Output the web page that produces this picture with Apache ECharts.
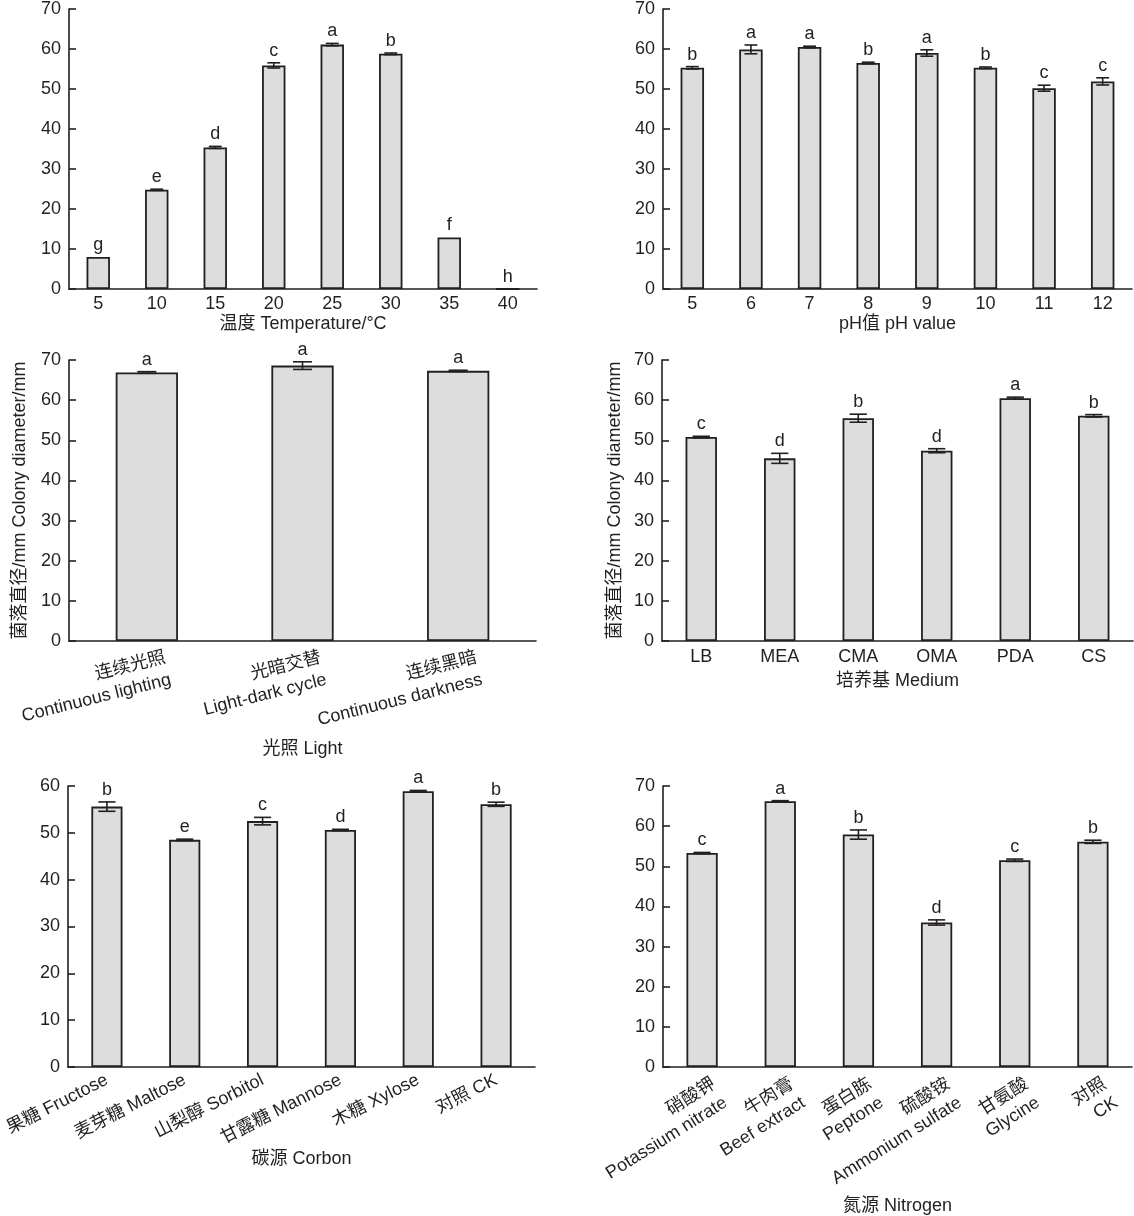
<!DOCTYPE html>
<html lang="zh">
<head>
    <meta charset="utf-8">
    <title>菌落直径</title>
    <script src="https://cdn.jsdelivr.net/npm/echarts@6/dist/echarts.min.js"></script>
    <style>
        body { margin: 0; background: #fff; }
    </style>
</head>
<body>
<div id="main" style="width: 1134px;height:1216px;"></div>
<script type="text/javascript">
    // 温度
    var tempCats = ['5', '10', '15', '20', '25', '30', '35', '40'];
    var tempMean = [8, 24.8, 35.4, 55.9, 61.1, 58.8, 12.9, 0];
    var tempErr = [0, 0.15, 0.25, 0.65, 0.3, 0.2, 0, 0];
    var tempLetters = ['g', 'e', 'd', 'c', 'a', 'b', 'f', 'h'];

    // pH
    var phCats = ['5', '6', '7', '8', '9', '10', '11', '12'];
    var phMean = [55.3, 59.9, 60.5, 56.5, 59.0, 55.3, 50.2, 51.9];
    var phErr = [0.3, 1.1, 0.2, 0.2, 0.8, 0.2, 0.75, 0.9];
    var phLetters = ['b', 'a', 'a', 'b', 'a', 'b', 'c', 'c'];

    // 光照
    var lightCats = ['连续光照\nContinuous lighting', '光暗交替\nLight-dark cycle', '连续黑暗\nContinuous darkness'];
    var lightMean = [66.9, 68.6, 67.3];
    var lightErr = [0.2, 0.95, 0.15];
    var lightLetters = ['a', 'a', 'a'];

    // 培养基
    var mediumCats = ['LB', 'MEA', 'CMA', 'OMA', 'PDA', 'CS'];
    var mediumMean = [50.8, 45.5, 55.5, 47.4, 60.5, 56.1];
    var mediumErr = [0.2, 1.25, 1.0, 0.5, 0.25, 0.3];
    var mediumLetters = ['c', 'd', 'b', 'd', 'a', 'b'];

    // 碳源
    var carbonCats = ['果糖 Fructose', '麦芽糖 Maltose', '山梨醇 Sorbitol', '甘露糖 Mannose', '木糖 Xylose', '对照 CK'];
    var carbonMean = [55.6, 48.5, 52.5, 50.6, 58.9, 56.1];
    var carbonErr = [1.0, 0.15, 0.8, 0.15, 0.15, 0.45];
    var carbonLetters = ['b', 'e', 'c', 'd', 'a', 'b'];

    // 氮源
    var nitroCats = ['硝酸钾\nPotassium nitrate', '牛肉膏\nBeef extract', '蛋白胨\nPeptone', '硫酸铵\nAmmonium sulfate', '甘氨酸\nGlycine', '对照\nCK'];
    var nitroMean = [53.3, 66.2, 57.9, 36.0, 51.5, 56.1];
    var nitroErr = [0.15, 0.15, 1.15, 0.65, 0.3, 0.4];
    var nitroLetters = ['c', 'a', 'b', 'd', 'c', 'b'];

    var ink = '#231f20';
    var fill = '#dcdddc';
    var font = '"Liberation Sans", Arial, "Noto Sans CJK SC", sans-serif';
    var fs = 18;
    var yName = '菌落直径/mm Colony diameter/mm';

    var grids = [
        {left: 69, top: 9, width: 468, height: 280},
        {left: 663, top: 9, width: 469, height: 280},
        {left: 69, top: 360, width: 467, height: 281},
        {left: 662, top: 360, width: 471, height: 281},
        {left: 68, top: 786, width: 467, height: 281},
        {left: 663, top: 786, width: 469, height: 281}
    ];
    grids.forEach(function (g) { g.outerBoundsMode = 'none'; g.containLabel = false; });

    var panels = [
        {cats: tempCats, mean: tempMean, err: tempErr, letters: tempLetters, max: 70,
            xName: '温度 Temperature/°C', nameGap: 26, label: {margin: 6}},
        {cats: phCats, mean: phMean, err: phErr, letters: phLetters, max: 70,
            xName: 'pH值 pH value', nameGap: 26, label: {margin: 6}},
        {cats: lightCats, mean: lightMean, err: lightErr, letters: lightLetters, max: 70,
            xName: '光照 Light', nameGap: 99, yName: yName,
            label: {rotate: 14, align: 'right', verticalAlign: 'top', margin: 9, padding: [0, -16, 0, 0], lineHeight: 23}},
        {cats: mediumCats, mean: mediumMean, err: mediumErr, letters: mediumLetters, max: 70,
            xName: '培养基 Medium', nameGap: 31, yName: yName, label: {margin: 7}},
        {cats: carbonCats, mean: carbonMean, err: carbonErr, letters: carbonLetters, max: 60,
            xName: '碳源 Corbon', nameGap: 81, label: {rotate: 27, margin: 12}},
        {cats: nitroCats, mean: nitroMean, err: nitroErr, letters: nitroLetters, max: 70,
            xName: '氮源 Nitrogen', nameGap: 130,
            label: {rotate: 32, align: 'right', verticalAlign: 'top', margin: 10, padding: [0, -7, 0, 0], lineHeight: 22}}
    ];

    var xAxes = [], yAxes = [], series = [];

    panels.forEach(function (p, k) {
        var lab = {interval: 0, color: ink, fontFamily: font, fontSize: fs};
        for (var key in p.label) lab[key] = p.label[key];

        xAxes.push({
            type: 'category', gridIndex: k, data: p.cats,
            name: p.xName, nameLocation: 'middle', nameGap: p.nameGap,
            nameTextStyle: {color: ink, fontFamily: font, fontSize: fs},
            axisLine: {lineStyle: {color: ink, width: 1.6}},
            axisTick: {show: false},
            axisLabel: lab
        });
        yAxes.push({
            type: 'value', gridIndex: k, min: 0, max: p.max, interval: 10,
            name: p.yName || '', nameLocation: 'middle', nameGap: k === 2 ? 40 : 38, nameRotate: 90,
            nameTextStyle: {color: ink, fontFamily: font, fontSize: fs},
            axisLine: {show: true, lineStyle: {color: ink, width: 1.6}},
            axisTick: {show: true, inside: true, length: 7, lineStyle: {color: ink, width: 1.6}},
            axisLabel: {color: ink, fontFamily: font, fontSize: fs, margin: 8},
            splitLine: {show: false}
        });

        series.push({
            type: 'bar', xAxisIndex: k, yAxisIndex: k,
            data: p.mean, barWidth: '40%',
            itemStyle: {color: fill, borderColor: ink, borderWidth: 1.8},
            silent: true
        });

        // 误差线 + 显著性字母
        series.push({
            type: 'custom', xAxisIndex: k, yAxisIndex: k, z: 3, clip: false,
            data: p.mean.map(function (m, i) { return [i, m, p.err[i]]; }),
            encode: {x: 0, y: 1},
            renderItem: function (params, api) {
                var i = api.value(0), m = api.value(1), e = api.value(2);
                var band = api.size([1, 0])[0];
                var half = Math.min(19, band * 0.22) / 2;
                var top = api.coord([i, m + e]);
                var bot = api.coord([i, m - e]);
                var x = top[0];
                var ls = {stroke: ink, lineWidth: 1.6};
                var children = [];
                if (e > 0) {
                    children.push({type: 'line', shape: {x1: x, y1: top[1], x2: x, y2: bot[1]}, style: ls});
                    children.push({type: 'line', shape: {x1: x - half, y1: top[1], x2: x + half, y2: top[1]}, style: ls});
                    children.push({type: 'line', shape: {x1: x - half, y1: bot[1], x2: x + half, y2: bot[1]}, style: ls});
                }
                children.push({
                    type: 'text',
                    style: {
                        x: x, y: top[1] - 3, text: p.letters[params.dataIndex],
                        align: 'center', verticalAlign: 'bottom',
                        fill: ink, fontFamily: font, fontSize: fs
                    }
                });
                return {type: 'group', children: children};
            }
        });
    });

    var myChart = echarts.init(document.getElementById('main'));
    myChart.setOption({
        animation: false,
        backgroundColor: '#fff',
        grid: grids,
        xAxis: xAxes,
        yAxis: yAxes,
        series: series
    });
</script>
</body>
</html>
